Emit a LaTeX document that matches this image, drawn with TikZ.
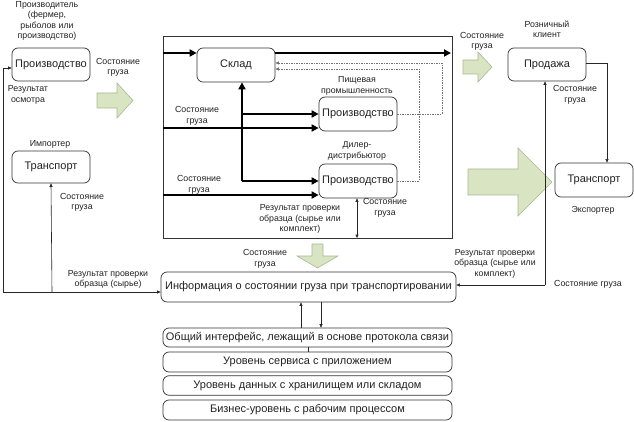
\documentclass[tikz,border=0pt]{standalone}
\usepackage{fontspec}
\setmainfont{Liberation Sans}
\usetikzlibrary{arrows.meta}
\definecolor{txt}{HTML}{222222}
\definecolor{gfill}{HTML}{D9E4C2}
\definecolor{gline}{HTML}{A9B893}
\tikzset{
  box/.style={draw=black!80, line width=0.7pt, rounded corners=6pt, minimum width=78pt, minimum height=33pt, inner sep=0pt, font=\fontsize{11}{12}\selectfont, text=txt},
  wide/.style={draw=black!80, line width=0.7pt, rounded corners=6pt, inner sep=0pt, font=\fontsize{11}{12}\selectfont, text=txt},
  lbl/.style={align=center, inner sep=0pt, font=\fontsize{8.8}{10.5}\selectfont, text=txt},
  thickarr/.style={line width=2.6pt, -{Triangle[length=7pt,width=7pt]}},
  thinarr/.style={line width=0.6pt, draw=black!85, -{Triangle[length=3.5pt,width=3pt]}},
  thinline/.style={line width=0.6pt, draw=black!85},
  dotarr/.style={line width=0.8pt, draw=black!55, dash pattern=on 1.5pt off 1pt, -{Triangle[length=3.5pt,width=3pt]}},
  garrow/.style={fill=gfill, draw=gline, line width=0.6pt}
}
\begin{document}
\begin{tikzpicture}[x=1pt,y=-1pt]
\useasboundingbox (0,0) rectangle (634,422);
% main frame
\draw[line width=0.7pt, draw=black!80] (163,36) rectangle (452,238);
% boxes
\node[box] (prodL) at (51,64.5) {Производство};
\node[box, minimum height=32pt] (trL) at (51,167) {Транспорт};
\node[box, minimum height=34pt] (sklad) at (236,65) {Склад};
\node[box, minimum height=34pt] (food) at (358,114) {Производство};
\node[box, minimum height=34pt] (dealer) at (358,181) {Производство};
\node[box] (sale) at (547,64.5) {Продажа};
\node[box, minimum height=34pt] (trR) at (594,180) {Транспорт};
\node[wide, minimum width=295pt, minimum height=30pt] (info) at (308.5,287) {Информация о состоянии груза при транспортировании};
\node[wide, minimum width=289pt, minimum height=19pt] (l1) at (307.5,337.5) {Общий интерфейс, лежащий в основе протокола связи};
\node[wide, minimum width=289pt, minimum height=20pt] (l2) at (307.5,362) {Уровень сервиса с приложением};
\node[wide, minimum width=289pt, minimum height=19.5pt] (l3) at (307.5,385.5) {Уровень данных с хранилищем или складом};
\node[wide, minimum width=289pt, minimum height=20pt] (l4) at (307.5,410) {Бизнес-уровень с рабочим процессом};
% labels
\node[lbl] (t1) at (47,21) {Производитель\\(фермер,\\рыболов или\\производство)};
\node[lbl] (t2) at (118,67.5) {Состояние\\груза};
\node[lbl] (t3) at (28,95) {Результат\\осмотра};
\node[lbl] (t4) at (50,144) {Импортер};
\node[lbl] (t5) at (82,202.5) {Состояние\\груза};
\node[lbl] (t6) at (108,279.5) {Результат проверки\\образца (сырье)};
\node[lbl] (t7) at (197,116) {Состояние\\груза};
\node[lbl] (t8) at (357,86) {Пищевая\\промышленность};
\node[lbl] (t9) at (357,151) {Дилер-\\дистрибьютор};
\node[lbl] (t10) at (199,185) {Состояние\\груза};
\node[lbl] (t11) at (300,219) {Результат проверки\\образца (сырье или\\комплект)};
\node[lbl] (t12) at (385,208) {Состояние\\груза};
\node[lbl] (t13) at (265,259) {Состояние\\груза};
\node[lbl] (t14) at (482,41.5) {Состояние\\груза};
\node[lbl] (t15) at (547,29.5) {Розничный\\клиент};
\node[lbl] (t16) at (575,95) {Состояние\\груза};
\node[lbl] (t17) at (593,210) {Экспортер};
\node[lbl] (t18) at (495,263.5) {Результат проверки\\образца (сырье или\\комплект)};
\node[lbl] (t19) at (588,284) {Состояние груза};
% green block arrows
\draw[garrow] (97,93) -- (117,93) -- (117,83) -- (133,100.5) -- (117,118) -- (117,108) -- (97,108) -- cycle;
\draw[garrow] (463,60) -- (478,60) -- (478,52) -- (492,67) -- (478,82) -- (478,74) -- (463,74) -- cycle;
\draw[garrow] (468,169) -- (518,169) -- (518,148) -- (552,182) -- (518,216) -- (518,195) -- (468,195) -- cycle;
\draw[garrow] (312,244) -- (323,244) -- (323,256) -- (338,256) -- (317.5,268) -- (297,256) -- (312,256) -- cycle;
% thick connectors
\coordinate (a1) at (163,53);
\coordinate (a2) at (451,53);
\coordinate (a3) at (163,128);
\coordinate (a4) at (163,195);
\coordinate (j1) at (242,114);
\coordinate (j2) at (242,181);
\draw[thickarr] (a1) -- (a1 -| sklad.west);
\draw[thickarr] (sklad.east |- a1) -- (a2);
\draw[thickarr] (a3) -- (a3 -| food.west);
\draw[thickarr] (a4) -- (a4 -| dealer.west);
\draw[thickarr] (j2) -- (j2 |- sklad.south);
\draw[thickarr] (j1) -- (food.west);
\draw[line width=2.6pt] (j2) -- ++(1.3,0);
\draw[thickarr] (j2) -- (dealer.west);
% dotted feedback
\coordinate (d1) at (442,63);
\coordinate (d2) at (419,69);
\draw[dotarr] (food.east) -- (food.east -| d1) -- (d1) -- (d1 -| sklad.east);
\draw[dotarr] (dealer.east) -- (dealer.east -| d2) -- (d2) -- (d2 -| sklad.east);
% double arrow under dealer
\coordinate (b1) at (357,238);
\draw[thinarr, {Triangle[length=3.5pt,width=3pt]}-{Triangle[length=3.5pt,width=3pt]}] (b1 |- dealer.south) -- (b1);
% left loop
\coordinate (c1) at (3,292);
\coordinate (c2) at (3,68);
\coordinate (c3) at (52,292);
\draw[thinarr] (c1) -- (c2) -- (c2 -| prodL.west);
\draw[thinarr] (c1) -- (c1 -| info.west);
\draw[thinarr] (c3) -- (trL.south);
% right loop
\coordinate (r1) at (545,285);
\draw[thinarr] (r1) -- (r1 -| info.east);
\draw[thinarr] (r1) -- (r1 |- sale.south);
\coordinate (r2) at (607,63);
\draw[thinarr] (sale.east |- r2) -- (r2) -- (r2 |- trR.north);
% info <-> layers
\coordinate (u1) at (301,0);
\coordinate (u2) at (321,0);
\draw[thinarr] (u1 |- l1.north) -- (u1 |- info.south);
\draw[thinarr] (u2 |- info.south) -- (u2 |- l1.north);
\coordinate (u3) at (308,0);
\draw[thinline] (u3 |- l1.south) -- (u3 |- l2.north);
\end{tikzpicture}
\end{document}
